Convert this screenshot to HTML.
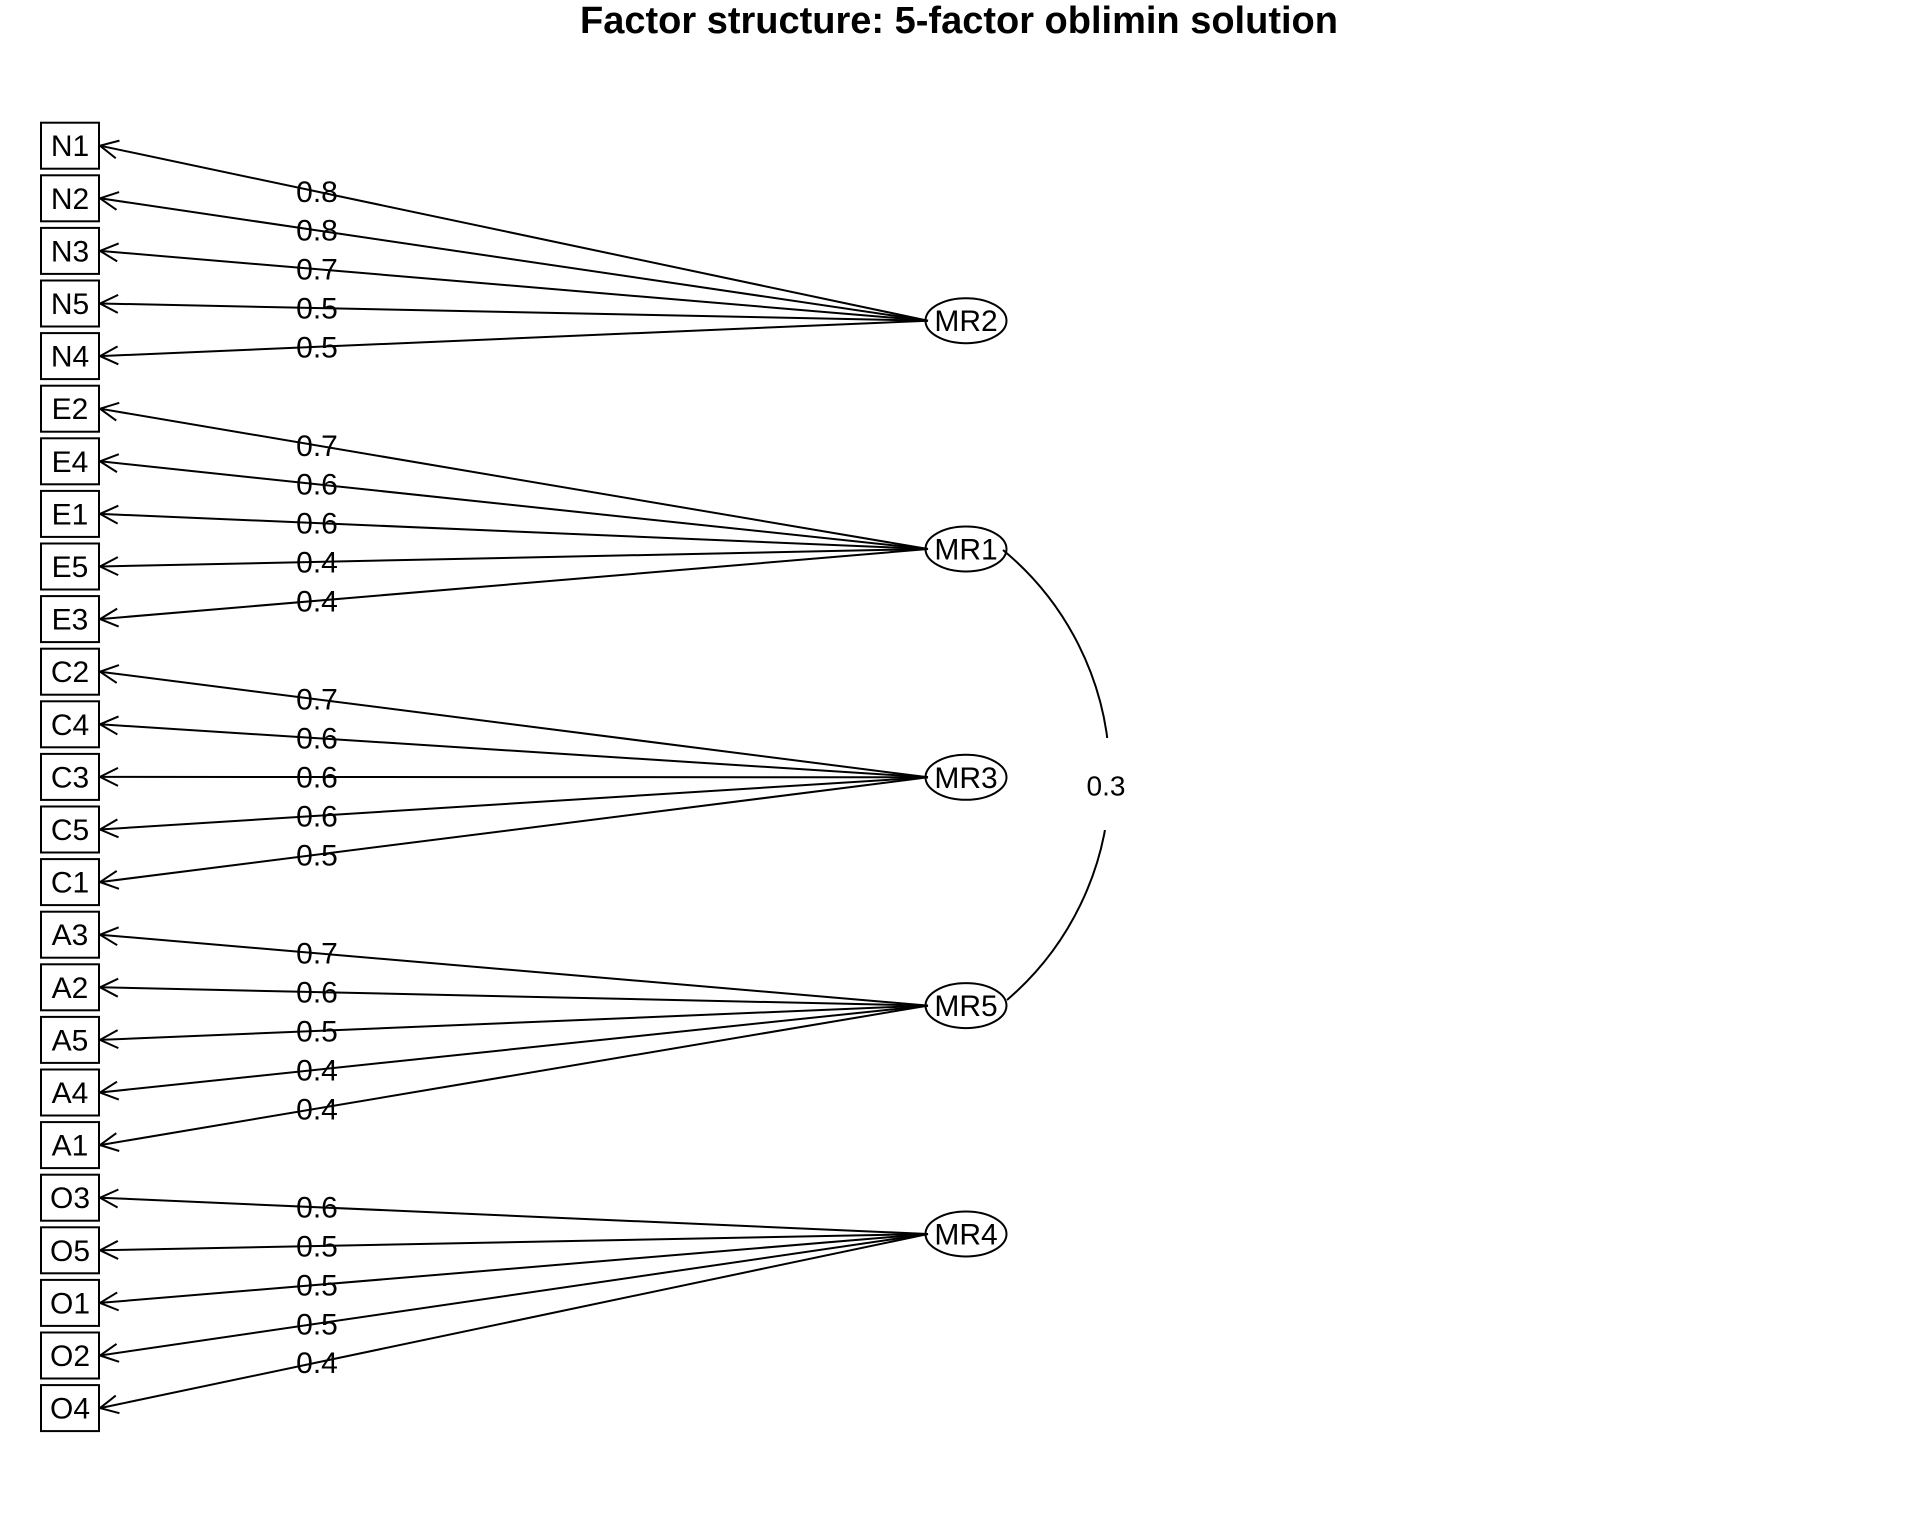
<!DOCTYPE html>
<html><head><meta charset="utf-8"><style>
html,body{margin:0;padding:0;background:#fff;}
svg{display:block;}
text{font-family:"Liberation Sans",sans-serif;fill:#000;}
</style></head><body>
<svg width="1920" height="1536" viewBox="0 0 1920 1536" xmlns="http://www.w3.org/2000/svg">
<defs>
<marker id="a" viewBox="0 0 22 22" refX="20" refY="11" markerWidth="22" markerHeight="22" markerUnits="userSpaceOnUse" orient="auto">
<path d="M2,2 L20,11 L2,20" fill="none" stroke="#000" stroke-width="2"/>
</marker>
</defs>
<text x="959" y="21" font-size="38" font-weight="bold" text-anchor="middle" dominant-baseline="central">Factor structure: 5-factor oblimin solution</text>
<g stroke="#000" stroke-width="2" fill="#fff">
<rect x="41" y="122.7" width="58" height="46"/>
<rect x="41" y="175.3" width="58" height="46"/>
<rect x="41" y="227.9" width="58" height="46"/>
<rect x="41" y="280.5" width="58" height="46"/>
<rect x="41" y="333.1" width="58" height="46"/>
<rect x="41" y="385.7" width="58" height="46"/>
<rect x="41" y="438.3" width="58" height="46"/>
<rect x="41" y="490.9" width="58" height="46"/>
<rect x="41" y="543.5" width="58" height="46"/>
<rect x="41" y="596.1" width="58" height="46"/>
<rect x="41" y="648.7" width="58" height="46"/>
<rect x="41" y="701.3" width="58" height="46"/>
<rect x="41" y="753.9" width="58" height="46"/>
<rect x="41" y="806.5" width="58" height="46"/>
<rect x="41" y="859.1" width="58" height="46"/>
<rect x="41" y="911.7" width="58" height="46"/>
<rect x="41" y="964.3" width="58" height="46"/>
<rect x="41" y="1016.9" width="58" height="46"/>
<rect x="41" y="1069.5" width="58" height="46"/>
<rect x="41" y="1122.1" width="58" height="46"/>
<rect x="41" y="1174.7" width="58" height="46"/>
<rect x="41" y="1227.3" width="58" height="46"/>
<rect x="41" y="1279.9" width="58" height="46"/>
<rect x="41" y="1332.5" width="58" height="46"/>
<rect x="41" y="1385.1" width="58" height="46"/>
</g>
<g stroke="#000" stroke-width="2" fill="none" marker-end="url(#a)">
<line x1="928" y1="320.7" x2="100" y2="145.7"/>
<line x1="928" y1="320.7" x2="100" y2="198.3"/>
<line x1="928" y1="320.7" x2="100" y2="250.9"/>
<line x1="928" y1="320.7" x2="100" y2="303.5"/>
<line x1="928" y1="320.7" x2="100" y2="356.1"/>
<line x1="928" y1="549" x2="100" y2="408.7"/>
<line x1="928" y1="549" x2="100" y2="461.3"/>
<line x1="928" y1="549" x2="100" y2="513.9"/>
<line x1="928" y1="549" x2="100" y2="566.5"/>
<line x1="928" y1="549" x2="100" y2="619.1"/>
<line x1="928" y1="777.3" x2="100" y2="671.7"/>
<line x1="928" y1="777.3" x2="100" y2="724.3"/>
<line x1="928" y1="777.3" x2="100" y2="776.9"/>
<line x1="928" y1="777.3" x2="100" y2="829.5"/>
<line x1="928" y1="777.3" x2="100" y2="882.1"/>
<line x1="928" y1="1005.6" x2="100" y2="934.7"/>
<line x1="928" y1="1005.6" x2="100" y2="987.3"/>
<line x1="928" y1="1005.6" x2="100" y2="1039.9"/>
<line x1="928" y1="1005.6" x2="100" y2="1092.5"/>
<line x1="928" y1="1005.6" x2="100" y2="1145.1"/>
<line x1="928" y1="1234" x2="100" y2="1197.7"/>
<line x1="928" y1="1234" x2="100" y2="1250.3"/>
<line x1="928" y1="1234" x2="100" y2="1302.9"/>
<line x1="928" y1="1234" x2="100" y2="1355.5"/>
<line x1="928" y1="1234" x2="100" y2="1408.1"/>
</g>
<g font-size="30" text-anchor="middle" dominant-baseline="central">
<text x="70" y="146.7">N1</text><text x="70" y="199.3">N2</text><text x="70" y="251.9">N3</text><text x="70" y="304.5">N5</text><text x="70" y="357.1">N4</text>
<text x="70" y="409.7">E2</text><text x="70" y="462.3">E4</text><text x="70" y="514.9">E1</text><text x="70" y="567.5">E5</text><text x="70" y="620.1">E3</text>
<text x="70" y="672.7">C2</text><text x="70" y="725.3">C4</text><text x="70" y="777.9">C3</text><text x="70" y="830.5">C5</text><text x="70" y="883.1">C1</text>
<text x="70" y="935.7">A3</text><text x="70" y="988.3">A2</text><text x="70" y="1040.9">A5</text><text x="70" y="1093.5">A4</text><text x="70" y="1146.1">A1</text>
<text x="70" y="1198.7">O3</text><text x="70" y="1251.3">O5</text><text x="70" y="1303.9">O1</text><text x="70" y="1356.5">O2</text><text x="70" y="1409.1">O4</text>
</g>
<g font-size="30" text-anchor="middle" dominant-baseline="central">
<text x="317" y="192.3">0.8</text><text x="317" y="231.2">0.8</text><text x="317" y="270.1">0.7</text><text x="317" y="309">0.5</text><text x="317" y="347.9">0.5</text>
<text x="317" y="446.3">0.7</text><text x="317" y="485.2">0.6</text><text x="317" y="524">0.6</text><text x="317" y="562.9">0.4</text><text x="317" y="601.8">0.4</text>
<text x="317" y="700.2">0.7</text><text x="317" y="739.1">0.6</text><text x="317" y="777.9">0.6</text><text x="317" y="816.9">0.6</text><text x="317" y="855.8">0.5</text>
<text x="317" y="954.2">0.7</text><text x="317" y="993.1">0.6</text><text x="317" y="1032">0.5</text><text x="317" y="1070.9">0.4</text><text x="317" y="1109.8">0.4</text>
<text x="317" y="1208.2">0.6</text><text x="317" y="1247">0.5</text><text x="317" y="1286">0.5</text><text x="317" y="1324.8">0.5</text><text x="317" y="1363.7">0.4</text>
</g>
<path d="M1003,550 A294,294 0 0 1 1007,1000" fill="none" stroke="#000" stroke-width="2"/>
<rect x="1070" y="738" width="70" height="92" fill="#fff"/>
<text x="1106" y="786" font-size="28" text-anchor="middle" dominant-baseline="central">0.3</text>
<g stroke="#000" stroke-width="2" fill="none">
<ellipse cx="966" cy="320.7" rx="40.5" ry="22.5"/>
<ellipse cx="966" cy="549" rx="40.5" ry="22.5"/>
<ellipse cx="966" cy="777.3" rx="40.5" ry="22.5"/>
<ellipse cx="966" cy="1005.6" rx="40.5" ry="22.5"/>
<ellipse cx="966" cy="1234" rx="40.5" ry="22.5"/>
</g>
<g font-size="30" text-anchor="middle" dominant-baseline="central">
<text x="966" y="321.7">MR2</text><text x="966" y="550">MR1</text><text x="966" y="778.3">MR3</text><text x="966" y="1006.6">MR5</text><text x="966" y="1235">MR4</text>
</g>
</svg>
</body></html>
